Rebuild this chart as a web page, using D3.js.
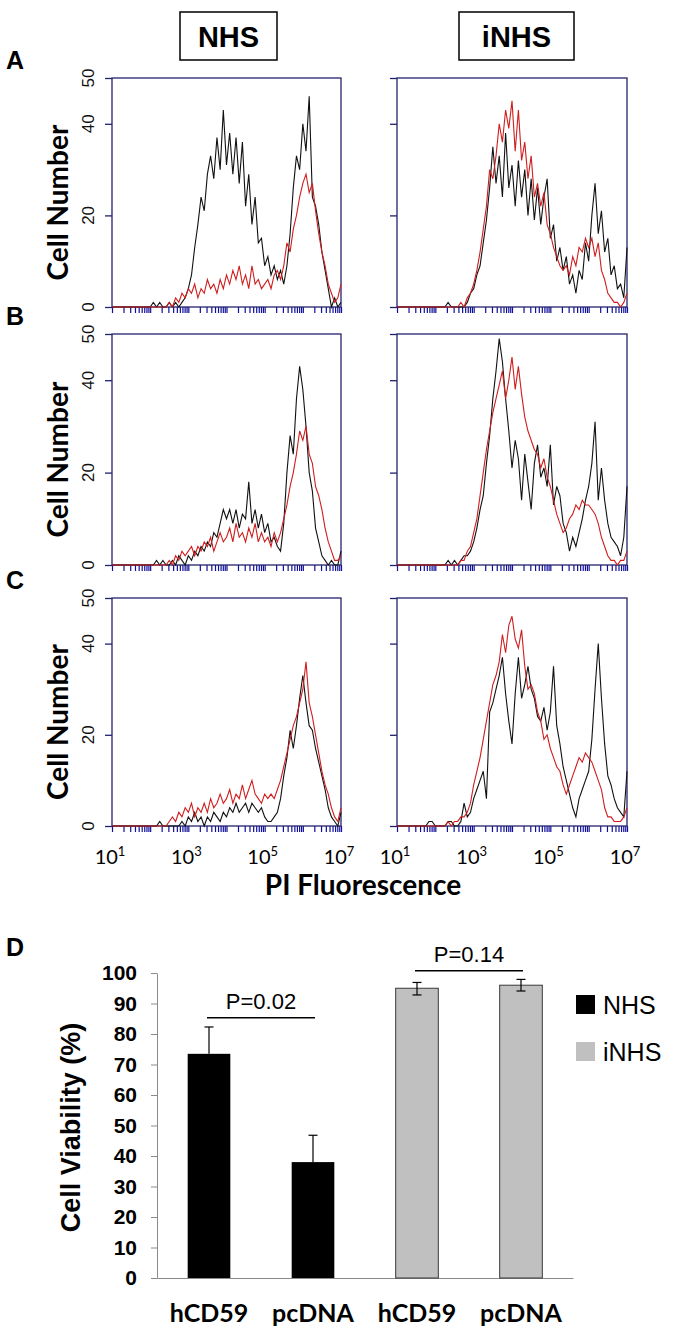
<!DOCTYPE html>
<meta charset="utf-8">
<style>
body { margin: 0; background: #fff; }
svg { display: block; }
.frame { fill: none; stroke: #22226e; stroke-width: 1.3; }
.hist { fill: none; stroke-width: 1.1; stroke-linejoin: miter; }
.ylab { font: 17px "Liberation Sans", Arial, sans-serif; fill: #111; }
.letter { font: bold 25px "Liberation Sans", Arial, sans-serif; }
.head { font: bold 29px "Liberation Sans", Arial, sans-serif; }
.celln { font: bold 28px Lato, sans-serif; }
.xlab { font: 20px Lato, sans-serif; }
.dtick text { font: bold 21px "Liberation Sans", Arial, sans-serif; fill: #000; }
.dcat text { font: bold 25px Lato, sans-serif; fill: #000; }
.ptext { font: 22px "Liberation Sans", Arial, sans-serif; }
.legend text { font: 25px "Liberation Sans", Arial, sans-serif; }
</style>
<svg width="673" height="1334"></svg>
<script src="https://cdnjs.cloudflare.com/ajax/libs/d3/7.8.5/d3.min.js"></script>
<script>
// flow histograms, 12 channels per decade from 10^1 to 10^7 (73 channels)
// black = hCD59, red = pcDNA
var aNhsHcd59 = [
  0,0,0,0,0,0,0,0,0,0,0,0,
  0,1,0,1,0,0,1,0,1,0,1,2,
  4,7,13,18,24,21,29,33,28,37,30,43,
  31,38,29,37,27,36,22,29,18,24,14,15,
  9,11,7,9,6,8,5,9,16,26,33,30,
  40,34,46,24,22,18,12,8,4,0,2,0,
  1];
var aNhsPcdna = [
  0,0,0,0,0,0,0,0,0,0,0,0,
  0,0,0,0,0,0,1,0,2,1,3,2,
  4,3,5,2,4,3,6,4,5,3,6,4,
  7,5,8,6,9,5,7,4,9,5,6,4,
  5,6,4,7,8,6,9,14,12,17,20,24,
  27,29,25,27,21,16,12,9,5,3,1,2,
  5];
var aInhsHcd59 = [
  0,0,0,0,0,0,0,0,0,0,0,0,
  0,0,0,0,1,0,0,0,0,0,1,3,
  4,7,9,14,19,26,35,27,33,24,38,26,
  31,22,32,24,30,20,28,19,26,18,24,28,
  15,18,10,13,8,11,5,7,3,8,6,14,
  10,20,27,16,21,12,15,7,9,4,5,2,
  13];
var aInhsPcdna = [
  0,0,0,0,0,0,0,0,0,0,0,0,
  0,0,0,0,0,0,0,0,1,0,2,3,
  5,8,12,17,22,30,28,33,40,36,43,39,
  45,34,43,32,36,28,33,24,27,22,25,18,
  16,13,11,9,8,9,7,11,9,13,12,15,
  13,15,11,14,8,6,3,2,1,1,0,1,
  3];
var bNhsHcd59 = [
  0,0,0,0,0,0,0,0,0,0,0,0,
  0,0,1,0,1,0,0,1,0,2,1,0,
  2,1,3,2,4,3,5,4,7,6,9,12,
  10,12,9,12,8,11,10,18,9,12,8,11,
  7,9,5,6,4,3,9,20,28,24,36,43,
  38,30,20,16,8,5,2,1,0,1,0,0,
  3];
var bNhsPcdna = [
  0,0,0,0,0,0,0,0,0,0,0,0,
  0,0,0,0,0,0,1,0,2,1,3,2,
  3,4,2,4,3,5,4,6,3,5,7,5,
  6,8,5,9,6,7,5,8,6,9,5,7,
  5,6,4,7,5,7,10,13,17,20,24,29,
  27,30,24,22,17,15,12,8,5,3,1,1,
  2];
var bInhsHcd59 = [
  0,0,0,0,0,0,0,0,0,0,0,0,
  0,0,0,0,1,0,1,0,1,2,2,3,
  5,8,12,15,22,28,36,42,49,44,36,29,
  21,27,23,14,24,18,12,22,26,19,21,17,
  26,13,17,15,9,7,3,6,4,7,10,14,
  17,22,31,14,21,14,9,6,5,4,2,6,
  17];
var bInhsPcdna = [
  0,0,0,0,0,0,0,0,0,0,0,0,
  0,0,0,0,0,0,0,0,1,1,3,4,
  7,10,15,20,25,29,33,36,39,42,36,40,
  45,38,43,37,32,29,27,25,24,21,23,19,
  17,14,11,9,7,8,10,11,13,12,14,13,
  13,12,11,9,6,4,2,1,1,0,1,1,
  3];
var cNhsHcd59 = [
  0,0,0,0,0,0,0,0,0,0,0,0,
  0,0,0,1,0,0,0,0,0,0,1,0,
  2,1,3,1,2,0,2,1,3,2,1,3,
  2,4,3,5,3,4,5,3,5,4,3,4,
  2,1,1,2,3,6,11,15,21,17,22,28,
  33,27,22,21,17,14,11,8,4,2,1,0,
  3];
var cNhsPcdna = [
  0,0,0,0,0,0,0,0,0,0,0,0,
  0,0,0,0,0,0,1,2,1,3,2,4,
  3,5,2,4,3,5,3,6,4,5,7,5,
  6,8,5,7,6,9,6,8,10,7,6,5,
  7,6,7,6,8,10,13,16,19,22,24,27,
  30,36,27,24,20,16,12,9,7,4,2,1,
  4];
var cInhsHcd59 = [
  0,0,0,0,0,0,0,0,0,0,1,1,
  0,0,0,0,1,1,0,0,1,5,2,3,
  6,8,10,12,6,25,27,30,33,37,29,23,
  18,29,37,28,31,35,30,28,24,23,26,21,
  25,35,22,18,13,10,7,4,2,6,8,10,
  12,19,30,40,28,18,11,9,6,4,3,2,
  12];
var cInhsPcdna = [
  0,0,0,0,0,0,0,0,0,0,0,0,
  0,0,0,0,1,0,1,1,2,2,3,5,
  9,12,15,19,23,27,31,33,36,42,38,44,
  46,41,39,43,35,30,31,29,25,23,19,20,
  17,15,13,12,9,7,9,11,13,15,14,16,
  15,14,12,10,8,4,2,2,1,1,1,2,
  4];

var panelLetters = ["A", "B", "C"];
var serumHeads = ["NHS", "iNHS"];
var histYTicks = [0, 20, 40, 50];
var histXExponents = [1, 3, 5, 7];

// panel D
var categories = ["hCD59", "pcDNA", "hCD59", "pcDNA"];
var barSerum = ["NHS", "NHS", "iNHS", "iNHS"];
var viability = [73.5, 38, 95, 96];
var errUp = [8.8, 8.8, 1.9, 1.9];
var errDown = [0, 0, 2.2, 1.9];
var pTexts = ["P=0.02", "P=0.14"];
var pPairs = [[0, 1], [2, 3]];
var pLevels = [85.3, 100.7];
var legendSera = ["NHS", "iNHS"];
</script>
<script>
var svg = d3.select("svg");

var histograms = [
  {row: 0, col: 0, black: aNhsHcd59, red: aNhsPcdna},
  {row: 0, col: 1, black: aInhsHcd59, red: aInhsPcdna},
  {row: 1, col: 0, black: bNhsHcd59, red: bNhsPcdna},
  {row: 1, col: 1, black: bInhsHcd59, red: bInhsPcdna},
  {row: 2, col: 0, black: cNhsHcd59, red: cNhsPcdna},
  {row: 2, col: 1, black: cInhsHcd59, red: cInhsPcdna}
];

var colX = [[112, 341], [397, 627]];
var rowY = [[78, 307], [334, 565], [598, 826]];
var channels = d3.range(73).map(function(i) { return Math.pow(10, 1 + i / 12); });

// header boxes
var headBox = [[180, 97], [459, 115]];
serumHeads.forEach(function(s, i) {
  svg.append("rect")
      .attr("x", headBox[i][0]).attr("y", 12)
      .attr("width", headBox[i][1]).attr("height", 48)
      .attr("fill", "none").attr("stroke", "#000").attr("stroke-width", 1.5);
  svg.append("text").attr("class", "head")
      .attr("x", headBox[i][0] + headBox[i][1] / 2).attr("y", 47)
      .attr("text-anchor", "middle").text(s);
});

histograms.forEach(function(h) {
  var x = d3.scaleLog().domain([10, 1e7]).range(colX[h.col]);
  var y = d3.scaleLinear().domain([0, 50]).range([rowY[h.row][1], rowY[h.row][0]]);
  var g = svg.append("g");

  // blue log ticks under the frame
  g.append("g")
      .attr("transform", "translate(0," + y(0) + ")")
      .call(d3.axisBottom(x).tickValues(x.ticks()).tickFormat("").tickSize(6).tickSizeOuter(0))
      .call(function(a) { a.select(".domain").remove(); })
      .selectAll("line").attr("stroke", "#10109a").attr("stroke-width", 1.2);

  g.append("g")
      .attr("transform", "translate(" + x.range()[0] + ",0)")
      .call(d3.axisLeft(y).tickValues(histYTicks).tickFormat("").tickSize(7).tickSizeOuter(0))
      .call(function(a) { a.select(".domain").remove(); })
      .selectAll("line").attr("stroke", "#22226e").attr("stroke-width", 1.3);

  g.append("rect").attr("class", "frame")
      .attr("x", x.range()[0]).attr("y", y(50))
      .attr("width", x.range()[1] - x.range()[0])
      .attr("height", y(0) - y(50));

  var line = d3.line()
      .x(function(d, i) { return x(channels[i]); })
      .y(function(d) { return y(d); });

  g.append("path").attr("class", "hist").attr("stroke", "#111").attr("d", line(h.black));
  g.append("path").attr("class", "hist").attr("stroke", "#d01d1d").attr("d", line(h.red));

  if (h.col === 0) {
    g.selectAll(".ylab").data(histYTicks).enter().append("text")
        .attr("class", "ylab")
        .attr("transform", function(d) { return "translate(88," + y(d) + ") rotate(-90)"; })
        .attr("dy", "0.35em")
        .attr("text-anchor", "middle")
        .text(function(d) { return d; });

    g.append("text").attr("class", "celln")
        .attr("transform", "translate(68," + ((y(0) + y(50)) / 2 + 10) + ") rotate(-90)")
        .attr("text-anchor", "middle")
        .text("Cell Number");

    g.append("text").attr("class", "letter")
        .attr("x", 6).attr("y", y(50) - 9)
        .text(panelLetters[h.row]);
  }

  if (h.row === 2) {
    histXExponents.forEach(function(e) {
      var t = g.append("text").attr("class", "xlab")
          .attr("x", x(Math.pow(10, e)) - 2).attr("y", 864)
          .attr("text-anchor", "middle");
      t.append("tspan").text("10");
      t.append("tspan").attr("dy", -8).attr("font-size", 13).text(e);
    });
  }
});

svg.append("text")
    .attr("x", 363).attr("y", 895)
    .attr("text-anchor", "middle")
    .attr("class", "celln")
    .text("PI Fluorescence");

// ---- panel D ----
svg.append("text").attr("class", "letter").attr("x", 6).attr("y", 956).text("D");

var xD = d3.scaleBand().domain(d3.range(categories.length))
    .range([157, 573]).paddingInner(0.59).paddingOuter(0.295);
var yD = d3.scaleLinear().domain([0, 100]).range([1278, 973]);
var fillFor = function(s) { return s === "NHS" ? "#000" : "#c0c0c0"; };

var gy = svg.append("g").attr("class", "dtick")
    .attr("transform", "translate(" + xD.range()[0] + ",0)")
    .call(d3.axisLeft(yD).tickValues(d3.range(0, 101, 10)).tickSize(6).tickSizeOuter(0).tickPadding(14));
gy.selectAll("line, path").attr("stroke", "#8a8a8a");

var gx = svg.append("g").attr("class", "dcat")
    .attr("transform", "translate(0," + yD(0) + ")")
    .call(d3.axisBottom(xD).tickSize(0).tickPadding(26).tickFormat(function(i) { return categories[i]; }));
gx.select(".domain").attr("stroke", "#8a8a8a");

svg.append("text")
    .attr("transform", "translate(80," + (yD(50) + 2) + ") rotate(-90)")
    .attr("text-anchor", "middle")
    .attr("font-family", "Liberation Sans, Arial, sans-serif")
    .attr("font-weight", "bold").attr("font-size", 27)
    .text("Cell Viability (%)");

svg.selectAll(".bar").data(viability).enter().append("rect")
    .attr("class", "bar")
    .attr("x", function(d, i) { return xD(i); })
    .attr("y", function(d) { return yD(d); })
    .attr("width", xD.bandwidth())
    .attr("height", function(d) { return yD(0) - yD(d); })
    .attr("fill", function(d, i) { return fillFor(barSerum[i]); })
    .attr("stroke", function(d, i) { return barSerum[i] === "NHS" ? "none" : "#3a3a3a"; })
    .attr("stroke-width", 1);

// error bars
viability.forEach(function(v, i) {
  var cx = xD(i) + xD.bandwidth() / 2;
  var top = yD(v + errUp[i]), bot = yD(v - errDown[i]);
  var eg = svg.append("g").attr("stroke", "#000").attr("stroke-width", 1.2);
  eg.append("line").attr("x1", cx).attr("x2", cx).attr("y1", top).attr("y2", bot);
  eg.append("line").attr("x1", cx - 4.5).attr("x2", cx + 4.5).attr("y1", top).attr("y2", top);
  if (errDown[i] > 0) {
    eg.append("line").attr("x1", cx - 4.5).attr("x2", cx + 4.5).attr("y1", bot).attr("y2", bot);
  }
});

// p-value brackets
pTexts.forEach(function(t, k) {
  var x1 = xD(pPairs[k][0]) + xD.bandwidth() / 2;
  var x2 = xD(pPairs[k][1]) + xD.bandwidth() / 2;
  var yy = yD(pLevels[k]);
  svg.append("line").attr("x1", x1 - 2).attr("x2", x2 + 2).attr("y1", yy).attr("y2", yy)
      .attr("stroke", "#000").attr("stroke-width", 1.5);
  svg.append("text").attr("class", "ptext")
      .attr("x", (x1 + x2) / 2).attr("y", yy - 9)
      .attr("text-anchor", "middle").text(t);
});

// legend
var lg = svg.append("g").attr("class", "legend");
legendSera.forEach(function(s, i) {
  lg.append("rect").attr("x", 576).attr("y", 995 + i * 47)
      .attr("width", 19).attr("height", 19).attr("fill", fillFor(s));
  lg.append("text").attr("x", 603).attr("y", 1014 + i * 47).text(s);
});
</script>
